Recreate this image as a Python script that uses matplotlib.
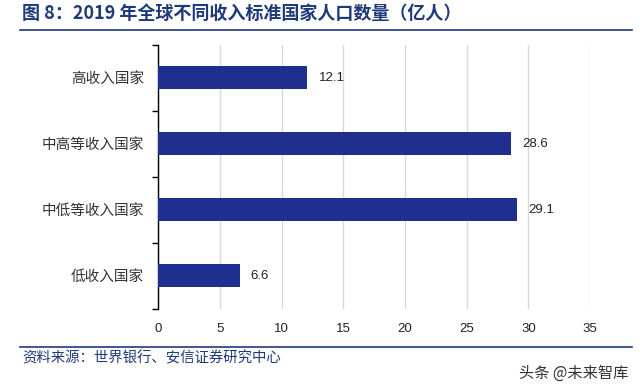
import matplotlib
matplotlib.use("Agg")
import matplotlib.pyplot as plt
from matplotlib.lines import Line2D

plt.rcParams["font.family"] = ["Noto Sans CJK SC", "DejaVu Sans"]

categories = ["高收入国家", "中高等收入国家", "中低等收入国家", "低收入国家"]
values = [12.1, 28.6, 29.1, 6.6]
xticks = [0, 5, 10, 15, 20, 25, 30, 35]

BAR = "#1F2F8F"
TITLE_BLUE = "#1F3A7A"

fig = plt.figure(figsize=(6.4, 3.9), dpi=100)
ax = fig.add_axes([0.247, 0.208, 0.675, 0.677])

ypos = list(range(len(categories)))
ax.barh(ypos, values, height=0.35, color=BAR, zorder=3)
for y, v in zip(ypos, values):
    ax.text(v + 0.9, y, f"{v}", va="center", ha="left", fontsize=9.5,
            color="#222222", family=["Liberation Sans", "DejaVu Sans"])

ax.set_xlim(0, 35)
ax.set_ylim(len(categories) - 0.5, -0.5)
ax.set_xticks(xticks)
ax.set_xticklabels([str(t) for t in xticks], fontsize=9.5, color="#222222",
                   family=["Liberation Sans", "DejaVu Sans"])
ax.tick_params(axis="x", length=0, pad=10)
ax.set_yticks(ypos)
ax.set_yticklabels(categories, fontsize=10.5, color="#333333")
ax.tick_params(axis="y", which="major", length=0, pad=10)
ax.set_yticks([i + 0.5 for i in range(-1, len(categories))], minor=True)
ax.tick_params(axis="y", which="minor", length=4, width=1, color="black", direction="out")

ax.grid(axis="x", color="#D9D9D9", linewidth=1, zorder=0)
for s in ["top", "right", "bottom"]:
    ax.spines[s].set_visible(False)
ax.spines["left"].set_color("black")
ax.spines["left"].set_linewidth(1)

fig.text(22 / 640, 1 - 13 / 390, "图 8：2019 年全球不同收入标准国家人口数量（亿人）",
         fontsize=13, fontweight="bold", color=TITLE_BLUE, va="center", ha="left")
fig.add_artist(Line2D([20 / 640, 632 / 640], [1 - 30 / 390, 1 - 30 / 390],
                      color=TITLE_BLUE, linewidth=1.2))
fig.add_artist(Line2D([20 / 640, 632 / 640], [1 - 347 / 390, 1 - 347 / 390],
                      color=TITLE_BLUE, linewidth=1.2))
fig.text(22 / 640, 1 - 358 / 390, "资料来源：世界银行、安信证券研究中心",
         fontsize=10.4, style="italic", color=TITLE_BLUE, va="center", ha="left")
fig.text(628 / 640, 1 - 373 / 390, "头条 @未来智库",
         fontsize=11, color="#333333", va="center", ha="right")

fig.savefig("out.png", dpi=100, facecolor="white")
